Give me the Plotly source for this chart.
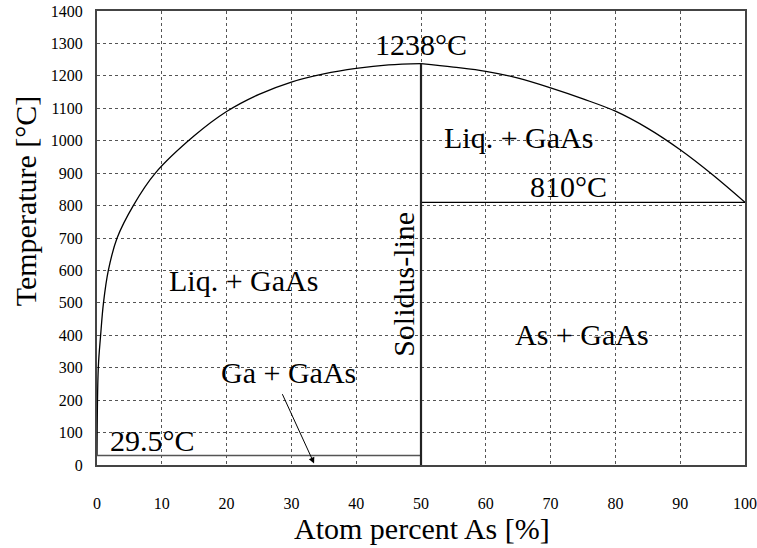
import plotly.graph_objects as go

# Liquidus curve (atom percent As, temperature °C)
liq_left_x = [0, 0.2, 0.56, 1.0, 1.75, 3.1, 5.6, 9.0, 15, 20, 25, 30, 35, 40, 45, 50]
liq_left_t = [29.5, 300, 400, 500, 600, 700, 800, 900, 1015, 1090, 1143, 1181, 1206, 1223, 1234, 1238]
liq_right_x = [50, 55, 60, 65, 70, 75, 80, 85, 90, 95, 100]
liq_right_t = [1238, 1227, 1214, 1193, 1163, 1129, 1091, 1038, 972, 895, 810]

# Invariant lines
eutectic_ga_x = [0, 50]
eutectic_ga_t = [29.5, 29.5]
eutectic_as_x = [50, 100]
eutectic_as_t = [810, 810]
solidus_x = [50, 50]
solidus_t = [0, 1238]

# Labels (text, x, T)
labels = ["1238°C", "Liq. + GaAs", "810°C", "Liq. + GaAs", "As + GaAs", "Ga + GaAs", "29.5°C"]
label_x = [50, 65.1, 72.7, 22.6, 74.9, 29.6, 8.5]
label_t = [1296, 1009, 858, 568, 401, 284, 77]

arrow_tail = (28.5, 223)
arrow_head = (33.5, 5)

x_ticks = [0, 10, 20, 30, 40, 50, 60, 70, 80, 90, 100]
y_ticks = list(range(0, 1401, 100))

FONT = "Liberation Serif"

fig = go.Figure()
fig.add_trace(go.Scatter(x=liq_left_x, y=liq_left_t, mode="lines",
                         line=dict(color="black", width=1.3, shape="spline", smoothing=1.0),
                         hoverinfo="skip"))
fig.add_trace(go.Scatter(x=liq_right_x, y=liq_right_t, mode="lines",
                         line=dict(color="black", width=1.3, shape="spline", smoothing=1.0),
                         hoverinfo="skip"))
fig.add_trace(go.Scatter(x=eutectic_ga_x, y=eutectic_ga_t, mode="lines",
                         line=dict(color="#555555", width=1.5), hoverinfo="skip"))
fig.add_trace(go.Scatter(x=eutectic_as_x, y=eutectic_as_t, mode="lines",
                         line=dict(color="black", width=1.2), hoverinfo="skip"))
fig.add_trace(go.Scatter(x=solidus_x, y=solidus_t, mode="lines",
                         line=dict(color="#222222", width=2.2), hoverinfo="skip"))

for txt, lx, lt in zip(labels, label_x, label_t):
    fig.add_annotation(x=lx, y=lt, text=txt, showarrow=False,
                       xanchor="center", yanchor="middle",
                       font=dict(family=FONT, size=30, color="black"))

fig.add_annotation(x=47.4, y=556, text="Solidus-line", textangle=-90, showarrow=False,
                   xanchor="center", yanchor="middle",
                   font=dict(family=FONT, size=30, color="black"))

fig.add_annotation(x=arrow_head[0], y=arrow_head[1], ax=arrow_tail[0], ay=arrow_tail[1],
                   xref="x", yref="y", axref="x", ayref="y", text="", showarrow=True,
                   arrowhead=2, arrowsize=1.2, arrowwidth=1, arrowcolor="black")

# Axis titles
fig.add_annotation(xref="paper", yref="paper", x=0.5015, y=-0.139, text="Atom percent As [%]",
                   xanchor="center", yanchor="middle",
                   showarrow=False, font=dict(family=FONT, size=30, color="black"))
fig.add_annotation(xref="paper", yref="paper", x=-0.111, y=0.581, text="Temperature [°C]",
                   xanchor="center", yanchor="middle",
                   textangle=-90, showarrow=False, font=dict(family=FONT, size=30, color="black"))

fig.update_layout(
    width=757, height=548,
    margin=dict(l=97, r=12, t=11, b=83),
    paper_bgcolor="white", plot_bgcolor="white",
    showlegend=False,
    font=dict(family=FONT, color="black"),
)
fig.update_xaxes(
    range=[0, 100], tickvals=x_ticks, ticktext=[str(v) for v in x_ticks],
    showgrid=True, gridcolor="#555555", griddash="dot", gridwidth=1,
    showline=True, linecolor="#444444", linewidth=2, mirror=True,
    zeroline=False, ticks="", ticklabelstandoff=23, automargin=False,
    tickfont=dict(family=FONT, size=16, color="black"),
)
fig.update_yaxes(
    range=[0, 1400], tickvals=y_ticks, ticktext=[str(v) for v in y_ticks],
    showgrid=True, gridcolor="#555555", griddash="dot", gridwidth=1,
    showline=True, linecolor="#444444", linewidth=2, mirror=True,
    zeroline=False, ticks="", ticklabelstandoff=9, automargin=False,
    tickfont=dict(family=FONT, size=16, color="black"),
)

fig.write_html("out.html")
